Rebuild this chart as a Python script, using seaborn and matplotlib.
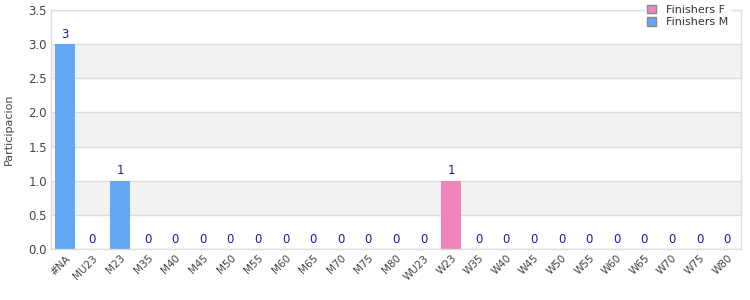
import matplotlib
matplotlib.use("Agg")
import matplotlib.pyplot as plt
import seaborn as sns
import pandas as pd
from matplotlib.patches import Patch

categories = ["#NA", "MU23", "M23", "M35", "M40", "M45", "M50", "M55", "M60", "M65",
              "M70", "M75", "M80", "WU23", "W23", "W35", "W40", "W45", "W50", "W55",
              "W60", "W65", "W70", "W75", "W80"]
values = [3, 0, 1, 0, 0, 0, 0, 0, 0, 0, 0, 0, 0, 0, 1, 0, 0, 0, 0, 0, 0, 0, 0, 0, 0]
series = ["Finishers M"] * 13 + ["Finishers F"] * 12
yticks = [0.0, 0.5, 1.0, 1.5, 2.0, 2.5, 3.0, 3.5]

colors = {"Finishers F": "#f283bb", "Finishers M": "#62a8f4"}

df = pd.DataFrame({"cat": categories, "val": values, "ser": series})

sns.set_style("white")
fig = plt.figure(figsize=(7.5, 3), dpi=100)
ax = fig.add_axes([0.068, 0.17, 0.92, 0.797])

# alternating bands
for lo in [0.5, 1.5, 2.5]:
    ax.axhspan(lo, lo + 0.5, color="#f2f2f2", zorder=0, lw=0)

sns.barplot(data=df, x="cat", y="val", hue="ser", palette=colors, dodge=False,
            width=0.72, ax=ax, legend=False, zorder=2, saturation=1, linewidth=0)

for i, v in enumerate(values):
    ax.text(i, v + 0.05, str(v), ha="center", va="bottom", fontsize=8.5, color="#1c1c99", zorder=3)

ax.set_ylim(0, 3.5)
ax.set_yticks(yticks)
ax.set_yticklabels([f"{t:.1f}" for t in yticks], fontsize=8.5, color="#444444")
ax.set_xlim(-0.5, len(categories) - 0.5)
ax.set_xticks(range(len(categories)))
ax.set_xticklabels(categories, rotation=45, ha="right", rotation_mode="anchor", fontsize=7.5, color="#444444")
ax.yaxis.grid(True, color="#dddddd", lw=1, zorder=1)
ax.set_axisbelow(True)
ax.tick_params(axis="both", length=0, pad=3)
ax.set_xlabel("")
ax.set_ylabel("Participacion", fontsize=8, color="#444444", labelpad=10)
for s in ax.spines.values():
    s.set_color("#dddddd")
    s.set_linewidth(1)

handles = [Patch(facecolor=colors["Finishers F"], edgecolor="#888888", label="Finishers F"),
           Patch(facecolor=colors["Finishers M"], edgecolor="#888888", label="Finishers M")]
leg = fig.legend(handles=handles, loc="upper left", bbox_to_anchor=(0.852, 1.01), frameon=True,
                 fontsize=8, handlelength=0.8, handleheight=0.8, handletextpad=0.9,
                 borderpad=0.2, labelspacing=0.2, facecolor="white", edgecolor="white", framealpha=1)
for t in leg.get_texts():
    t.set_color("#333333")

fig.savefig("out.png", dpi=100)
